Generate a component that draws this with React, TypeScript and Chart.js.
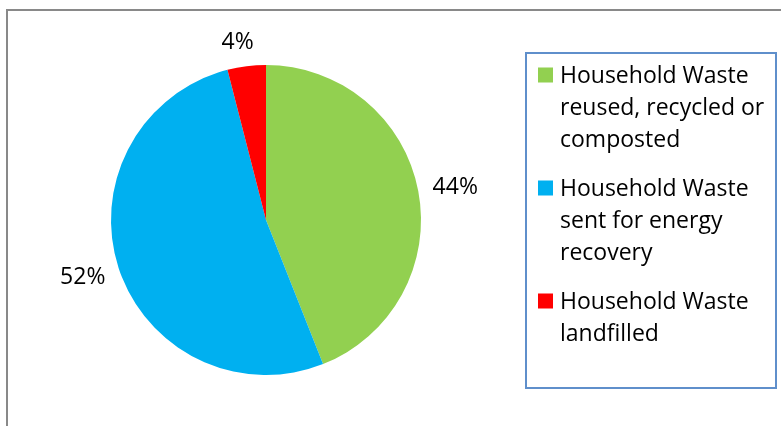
import { useEffect, useRef } from 'react';
import { Chart, registerables } from 'chart.js';

Chart.register(...registerables);

const categories = [
  'Household Waste reused, recycled or composted',
  'Household Waste sent for energy recovery',
  'Household Waste landfilled',
];
const values = [44, 52, 4];
const colors = ['#92D050', '#00B0F0', '#FF0000'];

const FONT_FAMILY = '"Open Sans", Lato, sans-serif';
const FONT_SIZE = 23;

function wrap(ctx: CanvasRenderingContext2D, text: string, maxW: number): string[] {
  const words = text.split(' ');
  const lines: string[] = [];
  let cur = '';
  for (const w of words) {
    const test = cur ? cur + ' ' + w : w;
    if (ctx.measureText(test).width > maxW && cur) {
      lines.push(cur);
      cur = w;
    } else {
      cur = test;
    }
  }
  if (cur) lines.push(cur);
  return lines;
}

const framePlugin = {
  id: 'frame',
  afterDraw(chart: any) {
    const ctx = chart.ctx as CanvasRenderingContext2D;
    ctx.save();
    ctx.strokeStyle = '#898989';
    ctx.lineWidth = 2;
    ctx.strokeRect(7, 10, 2000, 2000);
    ctx.strokeStyle = '#5F8FCB';
    ctx.lineWidth = 2;
    ctx.strokeRect(526, 53, 250, 335);
    ctx.font = `${FONT_SIZE}px ${FONT_FAMILY}`;
    ctx.textAlign = 'left';
    ctx.textBaseline = 'alphabetic';
    const labels = chart.data.labels as string[];
    const bg = chart.data.datasets[0].backgroundColor as string[];
    let baseline = 83;
    const lineH = 32;
    labels.forEach((lab, i) => {
      const lines = wrap(ctx, lab, 212);
      ctx.fillStyle = bg[i];
      ctx.fillRect(538, baseline - 15.5, 15, 15);
      ctx.fillStyle = '#000';
      lines.forEach((ln, j) => {
        ctx.fillText(ln, 560, baseline + j * lineH);
      });
      baseline += lines.length * lineH + 17;
    });
    ctx.restore();
  },
};

const labelPlugin = {
  id: 'outsideLabels',
  afterDatasetsDraw(chart: any) {
    const ctx = chart.ctx as CanvasRenderingContext2D;
    const meta = chart.getDatasetMeta(0);
    const data = chart.data.datasets[0].data as number[];
    const total = data.reduce((a, b) => a + b, 0);
    ctx.save();
    ctx.font = `${FONT_SIZE}px ${FONT_FAMILY}`;
    ctx.fillStyle = '#000';
    ctx.textAlign = 'center';
    ctx.textBaseline = 'alphabetic';
    meta.data.forEach((arc: any, i: number) => {
      const p = arc.getProps(['x', 'y', 'startAngle', 'endAngle', 'outerRadius'], true);
      const mid = (p.startAngle + p.endAngle) / 2;
      const ux = Math.cos(mid);
      const uy = Math.sin(mid);
      const txt = Math.round((data[i] / total) * 100) + '%';
      const w = ctx.measureText(txt).width;
      const h = 20;
      const gap = 15;
      const px = p.x + (p.outerRadius + gap) * ux;
      const py = p.y + (p.outerRadius + gap) * uy;
      const cx = px + (ux * w) / 2 - (Math.abs(uy) > 0.9 ? 5 : 0);
      const cy = py + (uy * h) / 2;
      ctx.fillText(txt, cx, cy + 8);
    });
    ctx.restore();
  },
};

export default function App() {
  const ref = useRef<HTMLCanvasElement | null>(null);
  useEffect(() => {
    if (!ref.current) return;
    const chart = new Chart(ref.current, {
      type: 'pie',
      data: {
        labels: categories,
        datasets: [
          {
            data: values,
            backgroundColor: colors,
            borderWidth: 0,
          },
        ],
      },
      options: {
        responsive: false,
        animation: false,
        devicePixelRatio: 1,
        layout: { padding: { left: 111, right: 360, top: 65, bottom: 51 } },
        plugins: {
          legend: { display: false },
          tooltip: { enabled: false },
        },
      },
      plugins: [labelPlugin, framePlugin],
    });
    return () => chart.destroy();
  }, []);
  return (
    <div style={{ position: 'fixed', left: 0, top: 0, width: 781, height: 426, background: '#fff' }}>
      <canvas ref={ref} width={781} height={426} />
    </div>
  );
}
